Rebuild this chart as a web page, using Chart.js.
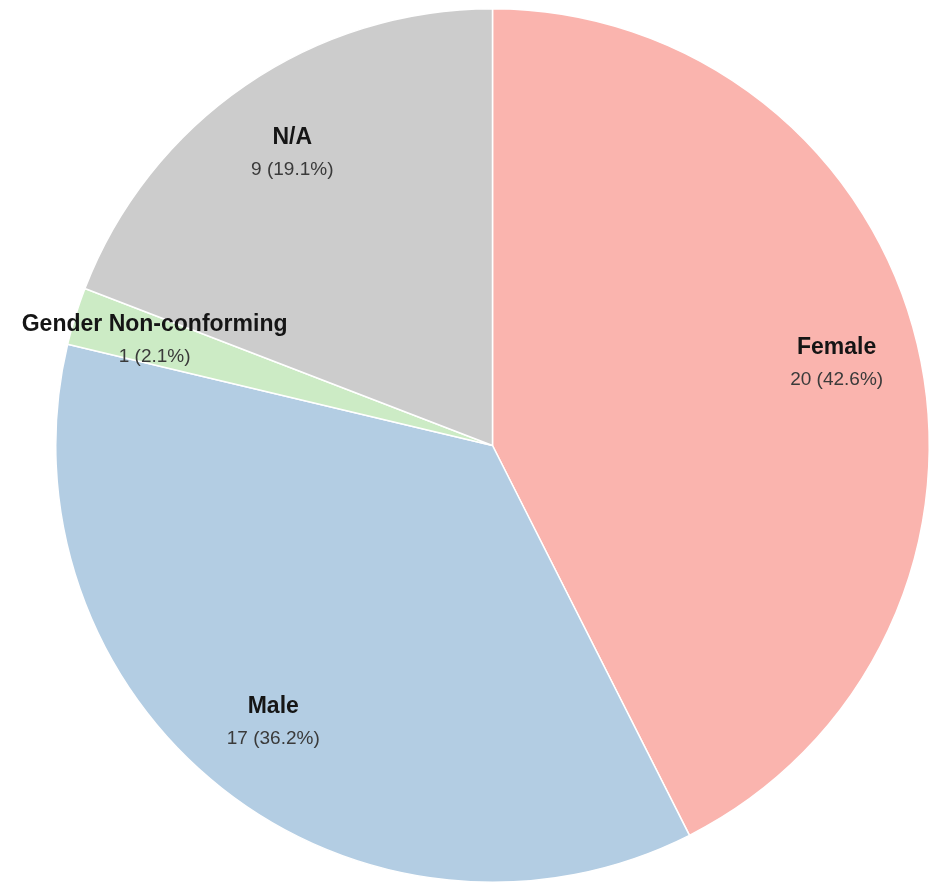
<!DOCTYPE html>
<html>
<head>
<meta charset="utf-8">
<script src="https://cdn.jsdelivr.net/npm/chart.js@4/dist/chart.umd.min.js"></script>
<style>
  html, body { margin: 0; padding: 0; background: #fff; }
  #wrap { width: 941px; height: 885px; position: relative; }
</style>
</head>
<body>
<div id="wrap"><canvas id="pieChart"></canvas></div>
<script>
var categories = ["Female", "Male", "Gender Non-conforming", "N/A"];
var counts = [20, 17, 1, 9];
var colors = ["#FAB4AE", "#B3CDE3", "#CCEBC5", "#CCCCCC"];

var total = counts.reduce(function(a, b){ return a + b; }, 0);

// labels drawn inside each slice, name on top, count + percent below
var sliceLabels = {
    id: 'sliceLabels',
    afterDraw: function(chart){
        var ctx = chart.ctx;
        var meta = chart.getDatasetMeta(0);
        meta.data.forEach(function(arc, i){
            var mid = (arc.startAngle + arc.endAngle) / 2;
            var r = arc.outerRadius * 0.81;
            var x = arc.x + Math.cos(mid) * r;
            var y = arc.y + Math.sin(mid) * r;
            var pct = (counts[i] / total * 100).toFixed(1);
            ctx.save();
            ctx.textAlign = 'center';
            ctx.textBaseline = 'middle';
            ctx.fillStyle = '#151515';
            ctx.font = 'bold 23px "Liberation Sans", Arial, sans-serif';
            ctx.fillText(categories[i], x, y - 16);
            ctx.fillStyle = '#3a3a3a';
            ctx.font = '19px "Liberation Sans", Arial, sans-serif';
            ctx.fillText(counts[i] + ' (' + pct + '%)', x, y + 16);
            ctx.restore();
        });
    }
};

var ctxP = document.getElementById("pieChart").getContext('2d');
var myPie = new Chart(ctxP, {
    type: 'pie',
    data: {
        labels: categories,
        datasets: [{
            data: counts,
            backgroundColor: colors,
            borderColor: '#ffffff',
            borderWidth: 1.5
        }]
    },
    options: {
        responsive: true,
        maintainAspectRatio: false,
        animation: false,
        layout: {
            padding: { left: 55, right: 11, top: 8, bottom: 2 }
        },
        plugins: {
            legend: { display: false },
            tooltip: { enabled: false }
        }
    },
    plugins: [sliceLabels]
});
</script>
</body>
</html>
